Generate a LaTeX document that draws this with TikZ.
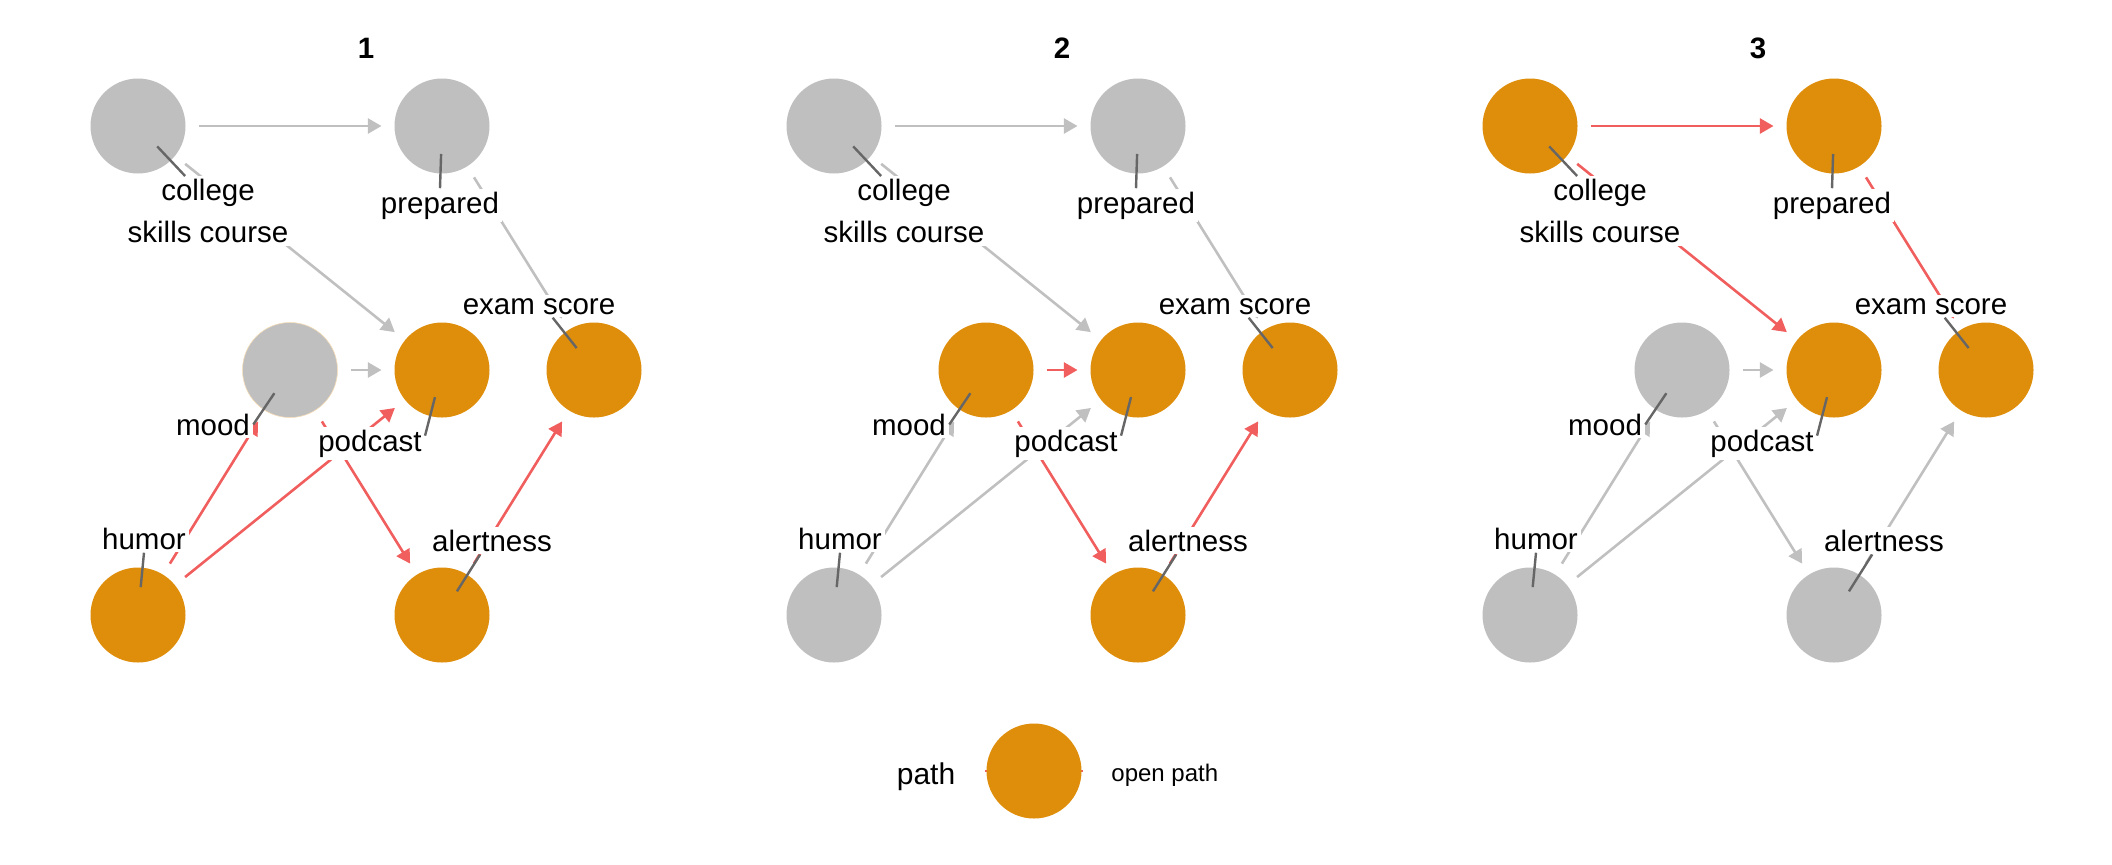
\documentclass[tikz,border=0pt]{standalone}
\usepackage{fontspec}
\setmainfont{Liberation Sans}
\usetikzlibrary{arrows.meta}

\definecolor{pathorange}{RGB}{223,142,11}
\definecolor{nodegray}{RGB}{191,191,191}
\definecolor{edgegray}{RGB}{192,192,192}
\definecolor{pathred}{RGB}{240,94,94}
\definecolor{leadgray}{RGB}{102,102,102}

\begin{document}
\begin{tikzpicture}[x=0.5pt,y=-0.5pt,
  dagnode/.style={circle,minimum size=47.5pt,inner sep=0pt,outer sep=6.5pt},
  dagedge/.style={line width=1.3pt,-{Triangle[length=6.8pt,width=7.5pt]}},
  lbl/.style={fill=white,inner sep=1.5pt,font=\fontsize{14.75}{21}\selectfont},
  leader/.style={draw=leadgray,line width=1.2pt,shorten <=14pt},
  ttl/.style={font=\fontsize{14.75}{18}\selectfont\bfseries,inner sep=0pt}]
\useasboundingbox (0,0) rectangle (2112,864);

\foreach \p/\x/\fc/\fp/\fm/\fd/\fe/\fh/\fa/\mrim/\ecp/\ecd/\epe/\emd/\ema/\ehm/\ehd/\eae in {
  1/138/nodegray/nodegray/nodegray/pathorange/pathorange/pathorange/pathorange/pathorange!30/edgegray/edgegray/edgegray/edgegray/pathred/pathred/pathred/pathred,
  2/834/nodegray/nodegray/pathorange/pathorange/pathorange/nodegray/pathorange/none/edgegray/edgegray/edgegray/pathred/pathred/edgegray/edgegray/pathred,
  3/1530/pathorange/pathorange/nodegray/pathorange/pathorange/nodegray/nodegray/none/pathred/pathred/pathred/edgegray/edgegray/edgegray/edgegray/edgegray}{
  \node[ttl,anchor=base] (t\p) at ({\x+228},58) {\p};
  \node[dagnode,fill=\fc] (col\p) at (\x,126) {};
  \node[dagnode,fill=\fp] (prep\p) at ({\x+304},126) {};
  \node[dagnode,fill=\fm,draw=\mrim,line width=0.3pt] (mood\p) at ({\x+152},370) {};
  \node[dagnode,fill=\fd] (pod\p) at ({\x+304},370) {};
  \node[dagnode,fill=\fe] (exam\p) at ({\x+456},370) {};
  \node[dagnode,fill=\fh] (hum\p) at (\x,615) {};
  \node[dagnode,fill=\fa] (alr\p) at ({\x+304},615) {};

  \draw[dagedge,draw=\ecp] (col\p) -- (prep\p);
  \draw[dagedge,draw=\ecd] (col\p) -- (pod\p);
  \draw[dagedge,draw=\epe] (prep\p) -- (exam\p);
  \draw[dagedge,draw=\emd] (mood\p) -- (pod\p);
  \draw[dagedge,draw=\ema] (mood\p) -- (alr\p);
  \draw[dagedge,draw=\ehm] (hum\p) -- (mood\p);
  \draw[dagedge,draw=\ehd] (hum\p) -- (pod\p);
  \draw[dagedge,draw=\eae] (alr\p) -- (exam\p);

  \node[lbl,align=center,anchor=north] (colL\p) at ({\x+70},176) {college\\skills course};
  \node[lbl,anchor=base] (prepL\p) at ({\x+302},213) {prepared};
  \node[lbl,anchor=base] (examL\p) at ({\x+401},314) {exam score};
  \node[lbl,anchor=base] (moodL\p) at ({\x+75},435) {mood};
  \node[lbl,anchor=base] (podL\p) at ({\x+232},451) {podcast};
  \node[lbl,anchor=base] (humL\p) at ({\x+6},549) {humor};
  \node[lbl,anchor=base] (alrL\p) at ({\x+354},551) {alertness};

  \draw[leader] (col\p.center) -- (colL\p.123);
  \draw[leader] (prep\p.center) -- (prepL\p.north);
  \draw[leader] (exam\p.center) -- (examL\p.-40);
  \draw[leader] (mood\p.center) -- (moodL\p.east);
  \draw[leader] (pod\p.center) -- (podL\p.8);
  \draw[leader] (hum\p.center) -- (humL\p.south);
  \draw[leader] (alr\p.center) -- (alrL\p.-130);
}

\coordinate (keyA) at (985,771);
\coordinate (keyB) at (1083,771);
\draw[pathred,line width=1.3pt] (keyA) -- (keyB);
\node[dagnode,fill=pathorange] (keyC) at (1034,771) {};
\node[font=\fontsize{15}{18}\selectfont,anchor=base,inner sep=0pt] (keyT) at (926,784) {path};
\node[font=\fontsize{12}{14}\selectfont,anchor=base west,inner sep=0pt] (keyL) at (1111,781) {open path};
\end{tikzpicture}
\end{document}
